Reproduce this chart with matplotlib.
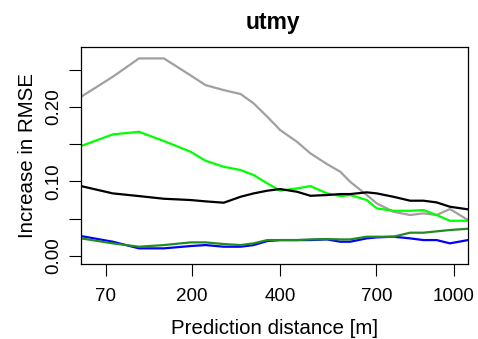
import matplotlib
matplotlib.use('Agg')
import matplotlib.pyplot as plt
import numpy as np

plt.rcParams['font.family'] = ['Liberation Sans', 'DejaVu Sans']

## Prediction distance [m]
dist = [45, 78, 112, 150, 197, 226, 264, 302, 333, 367, 401, 447,
        486, 536, 578, 610, 666, 701, 761, 824, 876, 929, 984, 1061]

## Increase in RMSE per model
gray_vals = [0.2135, 0.2404, 0.2650, 0.2650, 0.2422, 0.2292, 0.2225, 0.2172,
             0.2047, 0.1868, 0.1689, 0.1532, 0.1376, 0.1233, 0.1130, 0.0996,
             0.0818, 0.0706, 0.0594, 0.0550, 0.0572, 0.0550, 0.0630, 0.0483]
green_vals = [0.1475, 0.1631, 0.1666, 0.1542, 0.1398, 0.1278, 0.1197, 0.1153,
              0.1086, 0.0974, 0.0876, 0.0907, 0.0938, 0.0840, 0.0804, 0.0818,
              0.0751, 0.0639, 0.0607, 0.0607, 0.0616, 0.0550, 0.0473, 0.0473]
black_vals = [0.0938, 0.0840, 0.0804, 0.0768, 0.0751, 0.0733, 0.0715, 0.0795,
              0.0840, 0.0876, 0.0898, 0.0862, 0.0808, 0.0818, 0.0831, 0.0831,
              0.0854, 0.0840, 0.0795, 0.0742, 0.0742, 0.0719, 0.0661, 0.0626]
blue_vals = [0.0268, 0.0192, 0.0103, 0.0103, 0.0134, 0.0147, 0.0125, 0.0125,
             0.0147, 0.0201, 0.0214, 0.0214, 0.0214, 0.0223, 0.0192, 0.0192,
             0.0237, 0.0250, 0.0259, 0.0237, 0.0214, 0.0214, 0.0170, 0.0214]
dgreen_vals = [0.0237, 0.0170, 0.0125, 0.0147, 0.0183, 0.0183, 0.0161, 0.0147,
               0.0170, 0.0214, 0.0214, 0.0214, 0.0223, 0.0228, 0.0223, 0.0223,
               0.0259, 0.0259, 0.0259, 0.0313, 0.0313, 0.0331, 0.0349, 0.0366]

xticks = [70, 200, 400, 700, 1000]
yticks = [0.0, 0.05, 0.10, 0.15, 0.20, 0.25]
ytick_labels = ['0.00', '', '0.10', '', '0.20', '']

fig = plt.figure(figsize=(4.78, 3.39), dpi=100)
ax = fig.add_axes([0.1695, 0.2212, 0.979 - 0.1695, 0.862 - 0.2212])

## sqrt-Skala fuer die x-Achse
ax.set_xscale('function', functions=(np.sqrt, np.square))

lw = 1.6
ax.plot(dist, gray_vals, color='#a0a0a0', lw=lw)
ax.plot(dist, green_vals, color='#00ff00', lw=lw)
ax.plot(dist, black_vals, color='black', lw=lw)
ax.plot(dist, blue_vals, color='#0000ff', lw=lw)
ax.plot(dist, dgreen_vals, color='#228b22', lw=lw)

ax.set_xlim(45, 1061)
ax.set_ylim(-0.0107, 0.2806)

ax.set_xticks(xticks)
ax.set_xticklabels([str(t) for t in xticks])
ax.set_yticks(yticks)
ax.set_yticklabels(ytick_labels, rotation=90, va='center')
ax.minorticks_off()

ax.tick_params(axis='both', direction='out', length=8.6, width=0.8,
               labelsize=13.5, colors='black')
ax.tick_params(axis='x', pad=8.5)
ax.tick_params(axis='y', pad=5)

for s in ax.spines.values():
    s.set_linewidth(0.9)

ax.set_xlabel('Prediction distance [m]', fontsize=14.8, labelpad=10)
ax.set_ylabel('Increase in RMSE', fontsize=14.8, labelpad=6)
fig.text(0.572, 0.968, 'utmy', ha='center', va='top', fontsize=16.5, fontweight='bold')

fig.savefig('out.png', dpi=100)
